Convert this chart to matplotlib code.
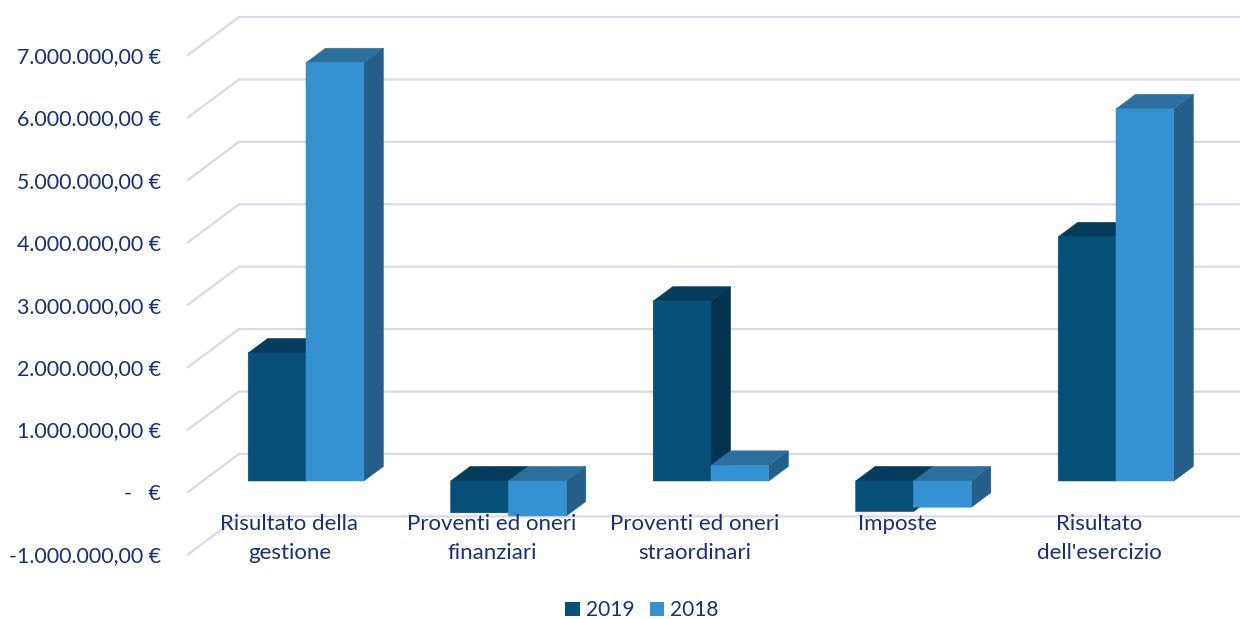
import matplotlib
matplotlib.use("Agg")
import matplotlib.pyplot as plt
from matplotlib.patches import Polygon, Patch

categories = ["Risultato della\ngestione", "Proventi ed oneri\nfinanziari",
              "Proventi ed oneri\nstraordinari", "Imposte", "Risultato\ndell'esercizio"]
values_2019 = [2050000, -510000, 2880000, -490000, 3910000]
values_2018 = [6700000, -560000, 250000, -420000, 5960000]
tick_values = [-1000000, 0, 1000000, 2000000, 3000000, 4000000, 5000000, 6000000, 7000000]
tick_labels = ["-1.000.000,00 €", "-   €", "1.000.000,00 €", "2.000.000,00 €", "3.000.000,00 €",
               "4.000.000,00 €", "5.000.000,00 €", "6.000.000,00 €", "7.000.000,00 €"]
series_names = ["2019", "2018"]

W, H = 1240, 619
TEXT = "#16307C"
GRID = "#DAD7EF"
STYLE = {"2019": ("#064F78", "#033D5B", "#03344D"),
         "2018": ("#3591D1", "#2A6F9E", "#235F88")}

fig = plt.figure(figsize=(W / 100, H / 100), dpi=100)
plt.rcParams["font.family"] = ["Lato", "DejaVu Sans"]
LEFT, RIGHT, TOP, BOTTOM = 188, 1240, 55, 554.4
ax = fig.add_axes([LEFT / W, 1 - BOTTOM / H, (RIGHT - LEFT) / W, (BOTTOM - TOP) / H])

PX_CAT = 202.5
PX_VAL = (BOTTOM - TOP) / 8
px_x = 1 / PX_CAT
px_y = 1e6 / PX_VAL
ax.set_ylim(-1e6, 7e6)
x0 = (LEFT - 306) / PX_CAT
ax.set_xlim(x0, x0 + (RIGHT - LEFT) / PX_CAT)

for s in ax.spines.values():
    s.set_visible(False)
ax.patch.set_visible(False)

# grid lines: floor edge in front plane, then back wall
for v in tick_values:
    ax.plot([x0, x0 + 51 * px_x, x0 + (RIGHT - LEFT) * px_x],
            [v, v + 38 * px_y, v + 38 * px_y],
            color=GRID, lw=1.6, zorder=1, clip_on=False, solid_joinstyle="miter")

BAR_W = 57.8 * px_x
DX, DY = 19.5 * px_x, 14.5 * px_y
BASE = 11 * px_y


def bar3d(x, v, style):
    front, top, side = style
    lo, hi = BASE + min(v, 0), BASE + max(v, 0)
    kw = dict(closed=True, zorder=3, clip_on=False, linewidth=0.4)
    ax.add_patch(Polygon([(x + BAR_W, lo), (x + BAR_W + DX, lo + DY), (x + BAR_W + DX, hi + DY), (x + BAR_W, hi)],
                         facecolor=side, edgecolor=side, **kw))
    ax.add_patch(Polygon([(x, hi), (x + DX, hi + DY), (x + BAR_W + DX, hi + DY), (x + BAR_W, hi)],
                         facecolor=top, edgecolor=top, **kw))
    rects = ax.bar(x, hi - lo, BAR_W, bottom=lo, align="edge", color=front, edgecolor=front,
                   linewidth=0.4, zorder=3, clip_on=False)
    for r in rects:
        r.set_snap(False)


for i in range(len(categories)):
    bar3d(i - BAR_W, values_2019[i], STYLE["2019"])
    bar3d(i, values_2018[i], STYLE["2018"])

ax.set_yticks(tick_values)
ax.set_yticklabels(tick_labels, fontsize=15.4, color=TEXT)
ax.tick_params(axis="y", length=0, pad=27 / 100 * 72)
LABEL_SHIFT = 16.5 * px_x
ax.set_xticks([i - LABEL_SHIFT for i in range(len(categories))])
ax.set_xticklabels(categories, fontsize=16, color=TEXT, linespacing=1.55)
ax.tick_params(axis="x", length=0, pad=-(BOTTOM - 514) / 100 * 72)
ax.xaxis.set_zorder(6)

handles = [Patch(facecolor=STYLE[n][0], edgecolor="none", label=n) for n in series_names]
fig.legend(handles=handles, loc="center", bbox_to_anchor=(642 / W, 1 - 610.5 / H), ncol=2, frameon=False,
           fontsize=15, labelcolor=TEXT, handlelength=0.68, handleheight=0.68, handletextpad=0.3,
           columnspacing=0.75, borderpad=0)

fig.savefig("out.png", dpi=100)
